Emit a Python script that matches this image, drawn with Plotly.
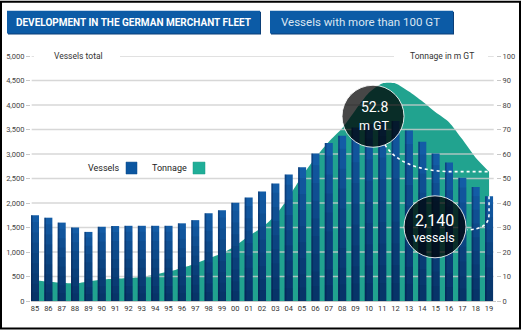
import plotly.graph_objects as go

years = ["85","86","87","88","89","90","91","92","93","94","95","96","97","98","99",
         "00","01","02","03","04","05","06","07","08","09","10","11","12","13","14",
         "15","16","17","18","19"]
vessels = [1750, 1700, 1600, 1500, 1410, 1515, 1530, 1535, 1535, 1535, 1535, 1585, 1650,
           1790, 1850, 2005, 2110, 2235, 2400, 2580, 2730, 3010, 3225, 3375, 3540, 3610,
           3660, 3675, 3480, 3250, 3010, 2825, 2515, 2325, 2140]
tonnage = [8.5, 7.9, 7.5, 7.2, 8.0, 8.8, 9.1, 9.4, 9.8, 10.8, 12.0, 13.5, 15.2, 17.4, 19.5,
           22.5, 26.5, 30.0, 35.0, 42.5, 51.0, 58.5, 65.0, 70.5, 78.0, 85.0, 88.8, 88.8,
           85.5, 81.5, 77.0, 73.0, 66.0, 58.5, 52.8]
vessel_ticks = list(range(0, 5001, 500))
tonnage_ticks = list(range(0, 101, 10))

W, H = 521, 330
L, R = 31, 496          # plot area pixel edges
T, B = 55.5, 301.5
XR = [-0.3, 34.52]

def px(p):   # pixel x -> paper
    return (p - L) / (R - L)
def py(p):   # pixel y -> paper
    return (B - p) / (B - T)

idx = list(range(len(years)))
FONT = "Roboto"
BLUE = "#135ca6"
TEAL = "#21a38f"

fig = go.Figure()

# tonnage area (primary y, right side)
fig.add_trace(go.Scatter(x=idx, y=tonnage, mode="lines", line=dict(color=TEAL, width=0, shape="spline", smoothing=0.6),
                         fill="tozeroy", fillcolor=TEAL, yaxis="y", hoverinfo="skip", showlegend=False))
# gridlines above the area, below the bars
gx, gy = [], []
for t in tonnage_ticks[1:]:
    gx += [-0.25, 34.35, None]
    gy += [t, t, None]
fig.add_trace(go.Scatter(x=gx, y=gy, mode="lines", line=dict(color="rgba(205,205,205,0.8)", width=1.3),
                         yaxis="y", hoverinfo="skip", showlegend=False))

# vessel bars (overlay axis, left side) with gradient emulation
fig.add_trace(go.Bar(x=idx, y=vessels, width=0.6, marker=dict(color=BLUE, line=dict(width=0)),
                     yaxis="y2", hoverinfo="skip", showlegend=False))
for f in [0.92, 0.8, 0.68, 0.56, 0.44, 0.32, 0.2, 0.1]:
    fig.add_trace(go.Bar(x=idx, y=[v * f for v in vessels], width=0.6,
                         marker=dict(color="rgba(5,20,60,0.09)", line=dict(width=0)),
                         yaxis="y2", hoverinfo="skip", showlegend=False))
# darker left edge of each bar
fig.add_trace(go.Bar(x=[i - 0.24 for i in idx], y=vessels, width=0.12,
                     marker=dict(color="rgba(5,20,60,0.35)", line=dict(width=0)),
                     yaxis="y2", hoverinfo="skip", showlegend=False))

shapes = []
annotations = []

# frame
shapes.append(dict(type="rect", xref="paper", yref="paper", x0=px(1), x1=px(520), y0=py(1), y1=py(329),
                   line=dict(color="#000", width=2), layer="above"))
# title boxes
shapes.append(dict(type="rect", xref="paper", yref="paper", x0=px(8), x1=px(261), y0=py(11), y1=py(34),
                   fillcolor="#0b3f78", line=dict(width=0)))
shapes.append(dict(type="rect", xref="paper", yref="paper", x0=px(7), x1=px(260), y0=py(10), y1=py(33),
                   fillcolor="#0c5ba6", line=dict(width=0)))
shapes.append(dict(type="rect", xref="paper", yref="paper", x0=px(271), x1=px(454), y0=py(11), y1=py(34),
                   fillcolor="#0b3f78", line=dict(width=0)))
shapes.append(dict(type="rect", xref="paper", yref="paper", x0=px(270), x1=px(453), y0=py(10), y1=py(33),
                   fillcolor="#0c5ba6", line=dict(width=0)))
annotations.append(dict(text="<b>DEVELOPMENT IN THE GERMAN MERCHANT FLEET</b>", xref="paper", yref="paper",
                        x=px(133.5), y=py(21.5), xanchor="center", yanchor="middle", showarrow=False,
                        font=dict(family=FONT, size=10, color="white")))
annotations.append(dict(text="Vessels with more than 100 GT", xref="paper", yref="paper",
                        x=px(360), y=py(21.5), xanchor="center", yanchor="middle", showarrow=False,
                        font=dict(family=FONT, size=11.5, color="#dbe6f2")))

# axis headers (white gaps in top gridline)
shapes.append(dict(type="rect", xref="paper", yref="paper", x0=px(34), x1=px(120), y0=py(52), y1=py(58),
                   fillcolor="white", line=dict(width=0), layer="above"))
shapes.append(dict(type="rect", xref="paper", yref="paper", x0=px(394), x1=px(488), y0=py(52), y1=py(58),
                   fillcolor="white", line=dict(width=0), layer="above"))
annotations.append(dict(text="Vessels total", xref="paper", yref="paper", x=px(78), y=py(55),
                        xanchor="center", yanchor="middle", showarrow=False,
                        font=dict(family=FONT, size=8.5, color="#333")))
annotations.append(dict(text="Tonnage in m GT", xref="paper", yref="paper", x=px(442), y=py(55),
                        xanchor="center", yanchor="middle", showarrow=False,
                        font=dict(family=FONT, size=8.5, color="#333")))

# legend
annotations.append(dict(text="Vessels", xref="paper", yref="paper", x=px(122), y=py(168),
                        xanchor="right", yanchor="middle", showarrow=False,
                        font=dict(family=FONT, size=9, color="#222")))
shapes.append(dict(type="rect", xref="paper", yref="paper", x0=px(126), x1=px(137), y0=py(162), y1=py(174),
                   fillcolor="#0b56a0", line=dict(color="#0a4a8a", width=0.5)))
annotations.append(dict(text="Tonnage", xref="paper", yref="paper", x=px(189), y=py(168),
                        xanchor="right", yanchor="middle", showarrow=False,
                        font=dict(family=FONT, size=9, color="#222")))
shapes.append(dict(type="rect", xref="paper", yref="paper", x0=px(193), x1=px(205), y0=py(162), y1=py(174),
                   fillcolor="#1fae98", line=dict(color="#1a9a86", width=0.5)))

# dotted connectors
last = len(years) - 1
shapes.append(dict(type="path", xref="x", yref="y", layer="above",
                   path=f"M 26.2 63.8 Q 27.4 53.4 31 {tonnage[-1]} L {last} {tonnage[-1]}",
                   line=dict(color="white", width=1.6, dash="dot")))
shapes.append(dict(type="path", xref="x", yref="y2", layer="above",
                   path=f"M {last} {vessels[-1]} L {last} 1780 Q {last} 1455 32.35 1455",
                   line=dict(color="white", width=1.6, dash="dot")))

# circles
for cx, cy in [(373, 116), (435, 227)]:
    shapes.append(dict(type="circle", xref="paper", yref="paper", layer="above",
                       xsizemode="pixel", ysizemode="pixel", xanchor=px(cx), yanchor=py(cy),
                       x0=-31, x1=31, y0=-31, y1=31,
                       fillcolor="rgba(0,0,0,0.72)", line=dict(color="rgba(255,255,255,0.85)", width=1)))
annotations.append(dict(text=f"{tonnage[-1]}", xref="paper", yref="paper", x=px(374), y=py(107),
                        xanchor="center", yanchor="middle", showarrow=False,
                        font=dict(family=FONT, size=14, color="white")))
annotations.append(dict(text="m GT", xref="paper", yref="paper", x=px(374), y=py(125),
                        xanchor="center", yanchor="middle", showarrow=False,
                        font=dict(family=FONT, size=12.5, color="white")))
annotations.append(dict(text=f"{vessels[-1]:,}", xref="paper", yref="paper", x=px(434), y=py(221),
                        xanchor="center", yanchor="middle", showarrow=False,
                        font=dict(family=FONT, size=16, color="white")))
annotations.append(dict(text="vessels", xref="paper", yref="paper", x=px(434), y=py(238),
                        xanchor="center", yanchor="middle", showarrow=False,
                        font=dict(family=FONT, size=12.5, color="white")))

fig.update_layout(
    width=W, height=H, autosize=False,
    margin=dict(l=L, r=W - R, t=T, b=H - B, pad=0, autoexpand=False),
    paper_bgcolor="white", plot_bgcolor="white",
    barmode="overlay", showlegend=False,
    font=dict(family=FONT, color="#333"),
    xaxis=dict(range=XR, tickmode="array", tickvals=idx, ticktext=years, showgrid=False, zeroline=False,
               showline=True, linecolor="#c8c8c8", linewidth=1, ticks="", automargin=False,
               tickfont=dict(family=FONT, size=7.5, color="#333")),
    yaxis=dict(range=[0, 100], side="right", tickvals=tonnage_ticks, showgrid=False, zeroline=False,
               ticks="outside", ticklen=4, tickcolor="#c8c8c8", automargin=False,
               tickfont=dict(family=FONT, size=7.5, color="#444")),
    yaxis2=dict(range=[0, 5000], side="left", overlaying="y", tickvals=vessel_ticks, tickformat=",",
                showgrid=False, zeroline=False, ticks="outside", ticklen=4, tickcolor="#c8c8c8",
                automargin=False, tickfont=dict(family=FONT, size=7.5, color="#444")),
    shapes=shapes, annotations=annotations,
)

fig.write_html("out.html", config={"responsive": False})
